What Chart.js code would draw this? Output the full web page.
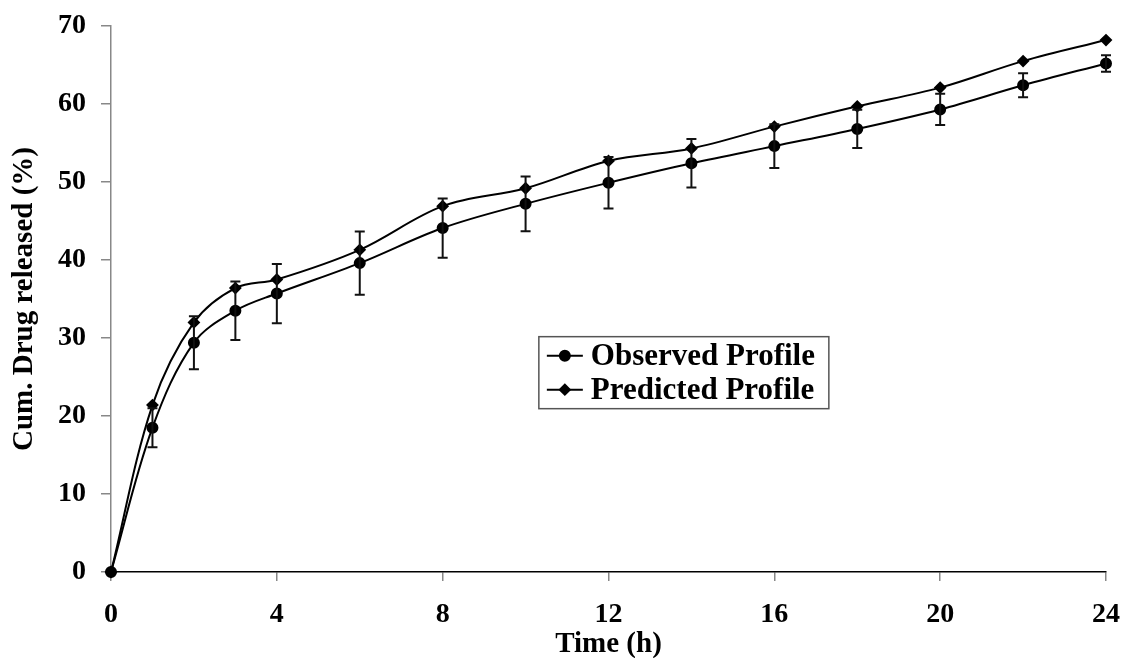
<!DOCTYPE html>
<html>
<head>
<meta charset="utf-8">
<script src="https://cdn.jsdelivr.net/npm/chart.js@4.4.1/dist/chart.umd.min.js"></script>
<style>
    html, body { margin: 0; padding: 0; background: #fff; }
    #wrap { position: relative; width: 1126px; height: 658px; }
</style>
</head>
<body>
<div id="wrap"><canvas id="release"></canvas></div>
<script>
/* ---------- data ---------- */
const timeH = [0, 1, 2, 3, 4, 6, 8, 10, 12, 14, 16, 18, 20, 22, 24];
const observed = [0, 18.5, 29.4, 33.5, 35.7, 39.6, 44.1, 47.2, 49.9, 52.4, 54.6, 56.8, 59.3, 62.4, 65.2];
const observedSD = [0, 2.5, 3.4, 3.75, 3.8, 4.05, 3.8, 3.5, 3.3, 3.1, 2.8, 2.45, 2.0, 1.55, 1.05];
const predicted = [0, 21.4, 32.0, 36.4, 37.5, 41.3, 46.9, 49.2, 52.7, 54.3, 57.1, 59.7, 62.1, 65.5, 68.2];
const xTicks = [0, 4, 8, 12, 16, 20, 24];
const legendLabels = ["Observed Profile", "Predicted Profile"];

const serif = "'Liberation Serif', 'Times New Roman', serif";
Chart.defaults.font.family = serif;
Chart.defaults.color = "#000";

const toPoints = (vals) => timeH.map((t, i) => ({ x: t, y: vals[i] }));

/* error bars on the observed series */
const errorBars = {
    id: "errorBars",
    afterDatasetsDraw(chart) {
        const { ctx, scales: { x, y } } = chart;
        ctx.save();
        ctx.strokeStyle = "#111";
        ctx.lineWidth = 2;
        observed.forEach((v, i) => {
            const sd = observedSD[i];
            if (!sd) return;
            const px = x.getPixelForValue(timeH[i]);
            const top = y.getPixelForValue(v + sd);
            const bot = y.getPixelForValue(v - sd);
            ctx.beginPath();
            ctx.moveTo(px, top); ctx.lineTo(px, bot);
            ctx.moveTo(px - 5, top); ctx.lineTo(px + 5, top);
            ctx.moveTo(px - 5, bot); ctx.lineTo(px + 5, bot);
            ctx.stroke();
        });
        ctx.restore();
    }
};

/* boxed legend sitting inside the plot */
const boxLegend = {
    id: "boxLegend",
    afterDraw(chart) {
        const { ctx, chartArea: a } = chart;
        const w = a.right - a.left, h = a.bottom - a.top;
        const bx = a.left + w * 0.43, by = a.top + h * 0.569;
        const bw = 290, bh = 72;
        ctx.save();
        ctx.strokeStyle = "#555";
        ctx.lineWidth = 1.5;
        ctx.strokeRect(bx, by, bw, bh);
        ctx.font = "bold 31px " + serif;
        ctx.textBaseline = "middle";
        ctx.fillStyle = "#000";
        const styles = ["circle", "rectRot"];
        legendLabels.forEach((lab, i) => {
            const cy = by + 19 + i * 34;
            ctx.strokeStyle = "#000";
            ctx.lineWidth = 2;
            ctx.beginPath();
            ctx.moveTo(bx + 8, cy); ctx.lineTo(bx + 44, cy);
            ctx.stroke();
            Chart.helpers.drawPoint(ctx, { pointStyle: styles[i], radius: 5, borderWidth: 1 }, bx + 26, cy);
            ctx.fillText(lab, bx + 52, cy + 1);
        });
        ctx.restore();
    }
};

new Chart(document.getElementById("release"), {
    type: "line",
    data: {
        datasets: [
            {
                label: legendLabels[0],
                data: toPoints(observed),
                borderColor: "#000",
                backgroundColor: "#000",
                borderWidth: 2,
                pointStyle: "circle",
                pointRadius: 5,
                tension: 0.35,
                clip: false
            },
            {
                label: legendLabels[1],
                data: toPoints(predicted),
                borderColor: "#000",
                backgroundColor: "#000",
                borderWidth: 2,
                pointStyle: "rectRot",
                pointRadius: 5,
                tension: 0.35,
                clip: false
            }
        ]
    },
    options: {
        responsive: true,
        maintainAspectRatio: false,
        animation: false,
        layout: { padding: { top: 26, right: 20, left: 0, bottom: 0 } },
        plugins: {
            legend: { display: false },
            tooltip: { enabled: false }
        },
        scales: {
            x: {
                type: "linear",
                min: 0,
                max: 24,
                afterBuildTicks: (s) => { s.ticks = xTicks.map(v => ({ value: v })); },
                afterFit: (s) => { s.height = 86; s.paddingLeft = 0; s.paddingRight = 0; },
                grid: { drawOnChartArea: false, tickLength: 9, color: "#888", lineWidth: 1.5 },
                border: { color: "#000", width: 1.5 },
                ticks: { font: { size: 28, weight: "bold" }, padding: 17, maxRotation: 0 },
                title: {
                    display: true,
                    text: "Time (h)",
                    font: { size: 29, weight: "bold" },
                    padding: { top: 0, bottom: -4 }
                }
            },
            y: {
                min: 0,
                max: 70,
                ticks: { stepSize: 10, font: { size: 28, weight: "bold" }, padding: 15 },
                afterFit: (s) => { s.width = 111; s.paddingTop = 0; s.paddingBottom = 0; },
                grid: { drawOnChartArea: false, tickLength: 10, color: "#888", lineWidth: 1.5 },
                border: { color: "#888", width: 1.5 },
                title: {
                    display: true,
                    text: "Cum. Drug released (%)",
                    font: { size: 29, weight: "bold" },
                    padding: { top: 7, bottom: 0 }
                }
            }
        }
    },
    plugins: [errorBars, boxLegend]
});
</script>
</body>
</html>
